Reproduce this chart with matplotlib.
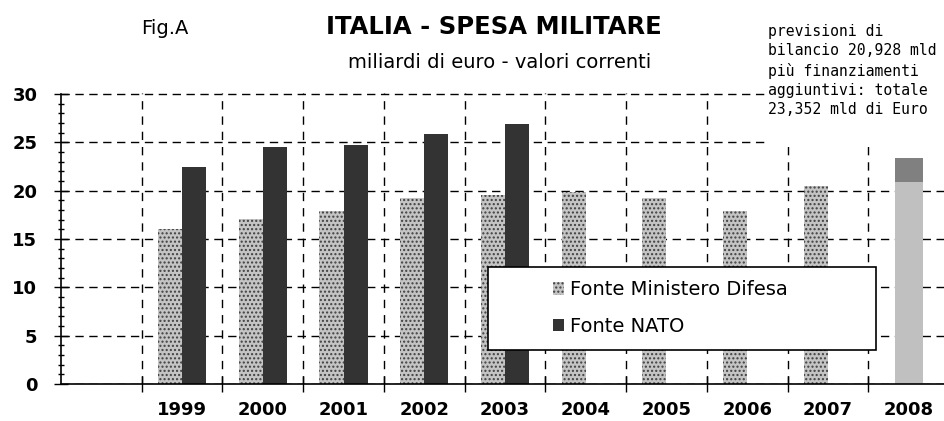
import matplotlib
matplotlib.use("Agg")
import matplotlib.pyplot as plt
from matplotlib.patches import Rectangle

# data
years = ["1999", "2000", "2001", "2002", "2003", "2004", "2005", "2006", "2007", "2008"]
difesa = [16.0, 17.1, 17.9, 19.2, 19.5, 19.9, 19.2, 17.9, 20.5]       # 1999-2007
nato = [22.4, 24.5, 24.7, 25.9, 26.9]                                   # 1999-2003
bilancio_2008 = 20.928
totale_2008 = 23.352

W, H = 944, 421
fig = plt.figure(figsize=(W / 100, H / 100), dpi=100)
ax = fig.add_axes([61 / W, 37 / H, 888 / W, 291 / H])

pos = list(range(1, len(years) + 1))
bw = 0.3

ax.bar([p - bw / 2 for p in pos[:len(difesa)]], difesa, width=bw,
       color="#c4c4c4", edgecolor="#404040", linewidth=0, hatch="....",
       label="Fonte Ministero Difesa", zorder=2)
ax.bar([p + bw / 2 for p in pos[:len(nato)]], nato, width=bw,
       color="#333333", linewidth=0, label="Fonte NATO", zorder=2)
ax.bar(pos[-1], bilancio_2008, width=0.35, color="#c0c0c0", linewidth=0, zorder=2)
ax.bar(pos[-1], totale_2008 - bilancio_2008, bottom=bilancio_2008, width=0.35,
       color="#808080", linewidth=0, zorder=2)

ax.set_xlim(-0.5, 10.5)
ax.set_ylim(0, 30.1)

ax.set_xticks(pos, years)
ax.set_xticks([p - 0.5 for p in pos], minor=True)
ax.tick_params(axis="x", which="major", length=0, pad=12, labelsize=13)
ax.tick_params(axis="x", which="minor", direction="inout", length=11, width=1)

ax.set_yticks(range(0, 31, 5))
ax.set_yticks(range(0, 31), minor=True)
ax.tick_params(axis="y", which="major", direction="inout", length=10, width=1,
               labelsize=13, pad=12)
ax.tick_params(axis="y", which="minor", direction="inout", length=5, width=1)
for lab in ax.get_xticklabels() + ax.get_yticklabels():
    lab.set_fontweight("bold")
    lab.set_family("DejaVu Sans")

ax.grid(axis="y", which="major", color="black", linestyle=(0, (6, 4)), linewidth=1)
ax.grid(axis="x", which="minor", color="black", linestyle=(0, (6, 5)), linewidth=1)
ax.set_axisbelow(True)

for s in ["top", "right"]:
    ax.spines[s].set_visible(False)
ax.spines["left"].set_bounds(0, 30)
ax.spines["left"].set_linewidth(1.2)
ax.spines["bottom"].set_linewidth(1.2)

# titles
fig.text(165 / W, 1 - 28 / H, "Fig.A", ha="center", va="center", fontsize=14,
         family="DejaVu Sans")
fig.text(494 / W, 1 - 27 / H, "ITALIA - SPESA MILITARE", ha="center", va="center",
         fontsize=17.5, fontweight="bold", family="DejaVu Sans")
fig.text(500 / W, 1 - 62 / H, "miliardi di euro - valori correnti", ha="center",
         va="center", fontsize=14, family="DejaVu Sans")

# note box (covers grid in the upper right)
ax.add_patch(Rectangle((767 / W, 1 - 146 / H), 1, 146 / H, transform=fig.transFigure,
                       facecolor="white", edgecolor="none", zorder=3, clip_on=False))
fig.text(768 / W, 1 - 24 / H,
         "previsioni di\nbilancio 20,928 mld\npiù finanziamenti\naggiuntivi: totale\n23,352 mld di Euro",
         ha="left", va="top", fontsize=10.6, family="DejaVu Sans Mono", linespacing=1.35)

# legend box
ax.add_patch(Rectangle((488 / W, 1 - 350 / H), (876 - 488) / W, (350 - 267) / H,
                       transform=fig.transFigure, facecolor="white",
                       edgecolor="black", linewidth=1.2, zorder=4, clip_on=False))
leg = ax.legend(loc="center left", bbox_to_anchor=(543 / W, 1 - 308 / H),
                bbox_transform=fig.transFigure, frameon=False, fontsize=14,
                handlelength=0.6, handleheight=0.6, handletextpad=0.3,
                labelspacing=0.9, borderpad=0)
leg.set_zorder(5)

fig.savefig("out.png", dpi=100)
